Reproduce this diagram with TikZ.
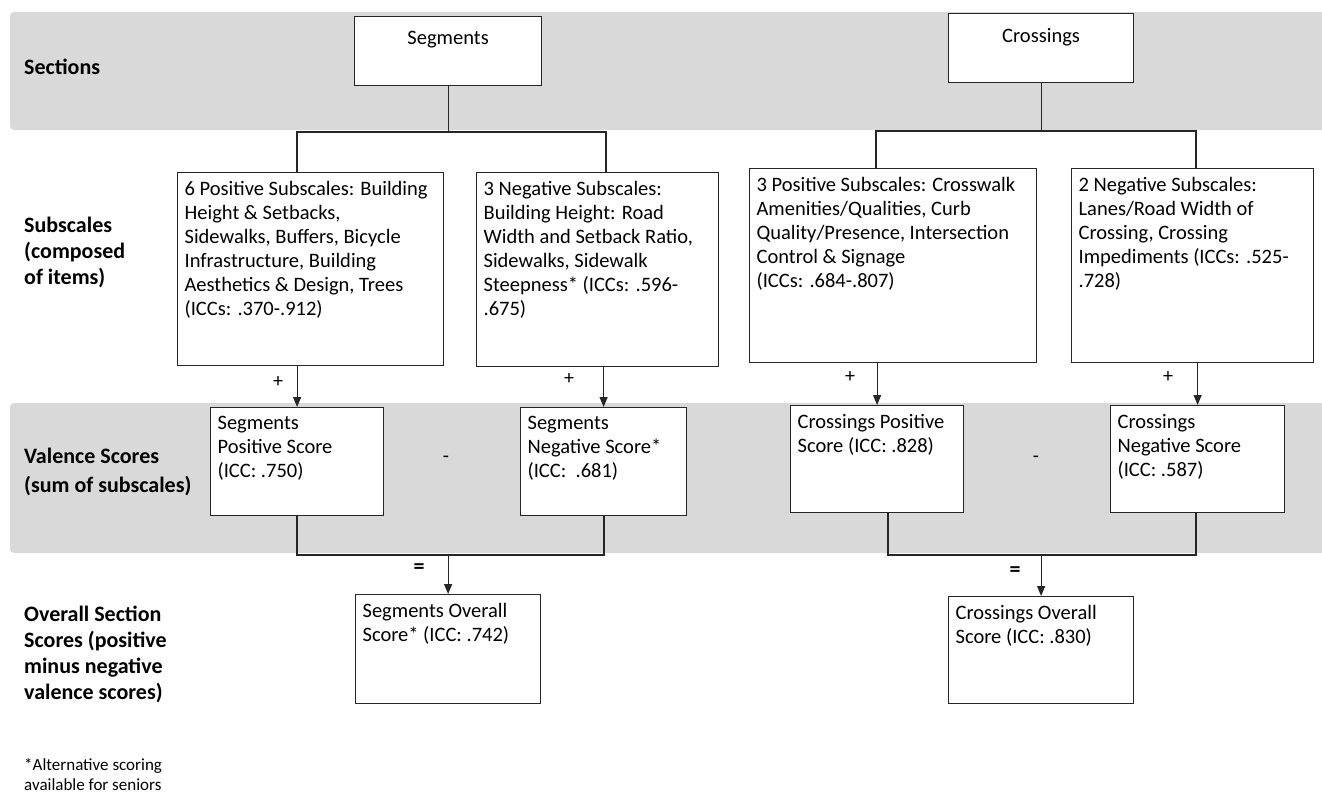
\documentclass[tikz,border=0pt]{standalone}
\usepackage{fontspec}
\setmainfont{Carlito}
\usetikzlibrary{arrows.meta}
\definecolor{bandgray}{HTML}{D9D9D9}
\newcommand{\bt}[3]{\begin{minipage}[c][#2][t]{#1}\vspace*{9pt}\hspace*{7pt}\begin{minipage}[t]{\dimexpr#1+60pt\relax}\raggedright\fontsize{20.5}{24}\selectfont #3\end{minipage}\end{minipage}}
\newcommand{\ct}[3]{\begin{minipage}[c][#2][t]{#1}\vspace*{15pt}\centering\fontsize{20.5}{24}\selectfont #3\end{minipage}}
\begin{document}
\begin{tikzpicture}[x=1pt,y=-1pt,
  box/.style={draw=black!85, fill=white, line width=1.2pt, inner sep=0pt, anchor=north west},
  lab/.style={font=\fontsize{22}{26}\selectfont\bfseries, align=left, anchor=west, inner sep=0pt},
  sym/.style={font=\fontsize{20}{24}\selectfont, inner sep=0pt},
  note/.style={font=\fontsize{17}{20}\selectfont, align=left, anchor=west, inner sep=0pt},
  arr/.style={-{Triangle[length=10pt,width=8pt]}, line width=1.2pt, draw=black!85},
  conn/.style={line width=1.2pt, draw=black!85},
  band/.style={fill=bandgray, draw=none, rounded corners=4pt}]
\useasboundingbox (0,0) rectangle (1322,795);
% bands
\fill[band] (10,12) rectangle (1330,130);
\fill[band] (10,403) rectangle (1330,553);
% labels
\node[lab] (l1) at (24,67) {Sections};
\node[lab] (l2) at (24,252) {Subscales\\(composed\\of items)};
\node[lab, font=\fontsize{22}{29}\selectfont\bfseries] (l3) at (24,472) {Valence Scores\\(sum of subscales)};
\node[lab] (l4) at (24,654) {Overall Section\\Scores (positive\\minus negative\\valence scores)};
\node[note] (fn) at (24,775) {*Alternative scoring\\available for seniors};
% sections
\node[box] (seg) at (354,16) {\ct{187pt}{69pt}{Segments}};
\node[box] (cro) at (948,13) {\ct{185pt}{69pt}{Crossings}};
% subscales
\node[box] (sp) at (177,172) {\bt{266pt}{193pt}{6 Positive Subscales: Building\\Height \& Setbacks,\\Sidewalks, Buffers, Bicycle\\Infrastructure, Building\\Aesthetics \& Design, Trees\\(ICCs: .370-.912)}};
\node[box] (sn) at (476,172) {\bt{242pt}{194pt}{3 Negative Subscales:\\Building Height: Road\\Width and Setback Ratio,\\Sidewalks, Sidewalk\\Steepness* (ICCs: .596-\\.675)}};
\node[box] (cp) at (749,168) {\bt{287pt}{194pt}{3 Positive Subscales: Crosswalk\\Amenities/Qualities, Curb\\Quality/Presence, Intersection\\Control \& Signage\\(ICCs: .684-.807)}};
\node[box] (cn) at (1071,168) {\bt{242pt}{194pt}{2 Negative Subscales:\\Lanes/Road Width of\\Crossing, Crossing\\Impediments (ICCs: .525-\\.728)}};
% valence
\node[box] (vsp) at (210,407) {\bt{173pt}{108pt}{Segments\\Positive Score\\(ICC: .750)}};
\node[box] (vsn) at (520,407) {\bt{166pt}{108pt}{Segments\\Negative Score*\\(ICC:\ \ .681)}};
\node[box] (vcp) at (790,405) {\bt{173pt}{107pt}{Crossings Positive\\Score (ICC: .828)}};
\node[box] (vcn) at (1110,405) {\bt{174pt}{107pt}{Crossings\\Negative Score\\(ICC: .587)}};
% overall
\node[box] (os) at (355,594) {\bt{185pt}{109pt}{Segments Overall\\Score* (ICC: .742)}};
\node[box] (oc) at (948,596) {\bt{185pt}{107pt}{Crossings Overall\\Score (ICC: .830)}};
% connectors top
\coordinate (sjL) at (297,132);
\coordinate (sjR) at (606,132);
\coordinate (cjL) at (876,131);
\coordinate (cjR) at (1196,131);
\draw[conn] (seg.south) -- (seg.south |- sjL);
\draw[conn] (sp.north -| sjL) -- (sjL) -- (sjR) -- (sn.north -| sjR);
\draw[conn] (cro.south) -- (cro.south |- cjL);
\draw[conn] (cp.north -| cjL) -- (cjL) -- (cjR) -- (cn.north -| cjR);
% arrows to valence
\draw[arr] (sp.south -| vsp.north) -- (vsp.north);
\draw[arr] (sn.south -| vsn.north) -- (vsn.north);
\draw[arr] (cp.south -| vcp.north) -- (vcp.north);
\draw[arr] (cn.south -| vcn.north) -- (vcn.north);
\node[sym] (p1) at (278,382) {+};
\node[sym] (p2) at (569,379) {+};
\node[sym] (p3) at (850,377) {+};
\node[sym] (p4) at (1168,377) {+};
\node[sym] (m1) at (446,459) {-};
\node[sym] (m2) at (1036,459) {-};
% lower connectors
\coordinate (ljL) at (297,555);
\coordinate (ljR) at (604,555);
\coordinate (rjL) at (888,555);
\coordinate (rjR) at (1196,555);
\draw[conn] (vsp.south -| ljL) -- (ljL) -- (ljR) -- (vsn.south -| ljR);
\draw[conn] (vcp.south -| rjL) -- (rjL) -- (rjR) -- (vcn.south -| rjR);
\draw[arr] (os.north |- ljL) -- (os.north);
\draw[arr] (oc.north |- rjL) -- (oc.north);
\node[sym, font=\fontsize{22}{24}\selectfont\bfseries] (e1) at (419,569) {=};
\node[sym, font=\fontsize{22}{24}\selectfont\bfseries] (e2) at (1015,572) {=};
\end{tikzpicture}
\end{document}
